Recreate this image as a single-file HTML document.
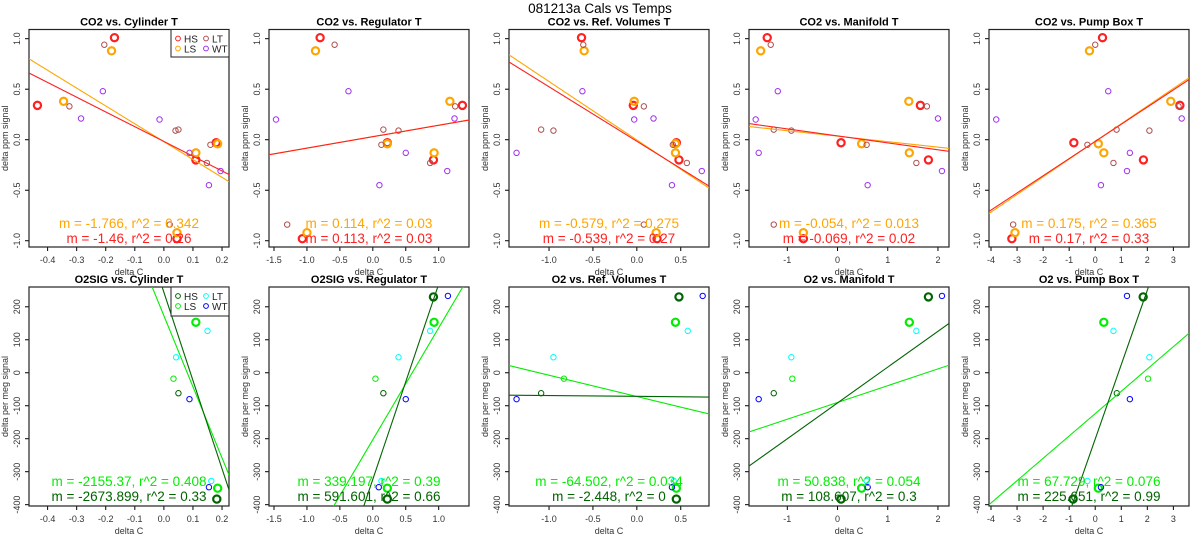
<!DOCTYPE html>
<html><head><meta charset="utf-8"><style>
html,body{margin:0;padding:0;background:#fff;width:1200px;height:550px;overflow:hidden;}
svg{display:block;font-family:"Liberation Sans",sans-serif;}
</style></head><body>
<svg id="c" width="1200" height="550" xmlns="http://www.w3.org/2000/svg">
<text x="600" y="13" text-anchor="middle" font-size="13.5">081213a   Cals vs Temps</text>
</svg>
<script>
// ---- top row (CO2) data: y values per group ----
const co2HS_y = [1.01, 0.34, -0.03, -0.20, -0.98];
const co2LS_y = [0.88, 0.38, -0.04, -0.13, -0.92];
const co2LT_y = [0.94, 0.33, 0.10, 0.09, -0.05, -0.23, -0.84];
const co2WT_y = [0.48, 0.20, 0.21, -0.13, -0.31, -0.45];
// x values per panel
const cylHS_x = [-0.17, -0.435, 0.18, 0.11, 0.045];
const cylLS_x = [-0.18, -0.345, 0.185, 0.11, 0.045];
const cylLT_x = [-0.205, -0.325, 0.05, 0.04, 0.16, 0.148, 0.02];
const cylWT_x = [-0.21, -0.015, -0.285, 0.088, 0.195, 0.155];
const regHS_x = [-0.8, 1.36, 0.22, 0.92, -1.07];
const regLS_x = [-0.87, 1.17, 0.22, 0.93, -1.0];
const regLT_x = [-0.58, 1.25, 0.16, 0.39, 0.13, 0.87, -1.3];
const regWT_x = [-0.37, -1.47, 1.24, 0.5, 1.13, 0.1];
const refHS_x = [-0.63, -0.04, 0.45, 0.48, 0.23];
const refLS_x = [-0.6, -0.03, 0.44, 0.44, 0.22];
const refLT_x = [-0.61, 0.08, -1.09, -0.95, 0.41, 0.57, 0.08];
const refWT_x = [-0.62, -0.03, 0.19, -1.37, 0.74, 0.4];
const manHS_x = [-1.4, 1.65, 0.07, 1.81, -0.68];
const manLS_x = [-1.53, 1.42, 0.48, 1.43, -0.68];
const manLT_x = [-1.33, 1.78, -1.27, -0.92, 0.58, 1.57, -1.27];
const manWT_x = [-1.19, -1.63, 2.0, -1.57, 2.08, 0.6];
const pumHS_x = [0.28, 3.25, -0.82, 1.85, -3.2];
const pumLS_x = [-0.22, 2.9, 0.12, 0.33, -3.08];
const pumLT_x = [0.0, 3.2, 0.82, 2.08, -0.3, 0.7, -3.15];
const pumWT_x = [0.5, -3.8, 3.32, 1.33, 1.22, 0.22];
// ---- bottom row (O2) data ----
const o2HS_y = [230, -383, -62];
const o2LS_y = [153, -350, -18];
const o2LT_y = [127, 47, -328];
const o2WT_y = [233, -80, -347];
const bcylHS_x = [null, 0.182, 0.05];
const bcylLS_x = [0.11, 0.185, 0.033];
const bcylLT_x = [0.15, 0.042, 0.163];
const bcylWT_x = [null, 0.088, 0.155];
const bregHS_x = [0.92, 0.22, 0.16];
const bregLS_x = [0.93, 0.22, 0.04];
const bregLT_x = [0.87, 0.39, 0.13];
const bregWT_x = [1.14, 0.5, 0.09];
const brefHS_x = [0.48, 0.45, -1.09];
const brefLS_x = [0.44, 0.45, -0.83];
const brefLT_x = [0.58, -0.95, 0.42];
const brefWT_x = [0.75, -1.37, 0.4];
const bmanHS_x = [1.81, 0.07, -1.27];
const bmanLS_x = [1.43, 0.48, -0.9];
const bmanLT_x = [1.57, -0.92, 0.58];
const bmanWT_x = [2.08, -1.57, 0.6];
const bpumHS_x = [1.84, -0.85, 0.83];
const bpumLS_x = [0.33, 0.12, 2.03];
const bpumLT_x = [0.7, 2.08, -0.3];
const bpumWT_x = [1.22, 1.33, 0.22];
// regression lines [slope, intercept]
const topSlopeLS = [-1.766, 0.114, -0.579, -0.054, 0.175];
const topIntLS = [-0.019, 0.03, -0.003, 0.035, -0.017];
const topSlopeHS = [-1.46, 0.113, -0.539, -0.069, 0.17];
const topIntHS = [-0.017, 0.03, -0.015, 0.038, -0.017];
const botSlopeLS = [-2155.37, 339.197, -64.502, 50.838, 67.729];
const botIntLS = [173, -203, -72, -90, -124];
const botSlopeHS = [-2673.899, 591.601, -2.448, 108.607, 225.651];
const botIntHS = [244, -323, -71.6, -91.5, -201];
const topLabLS = ["m = -1.766, r^2 = 0.342","m = 0.114, r^2 = 0.03","m = -0.579, r^2 = 0.275","m = -0.054, r^2 = 0.013","m = 0.175, r^2 = 0.365"];
const topLabHS = ["m = -1.46, r^2 = 0.26","m = 0.113, r^2 = 0.03","m = -0.539, r^2 = 0.27","m = -0.069, r^2 = 0.02","m = 0.17, r^2 = 0.33"];
const botLabLS = ["m = -2155.37, r^2 = 0.408","m = 339.197, r^2 = 0.39","m = -64.502, r^2 = 0.034","m = 50.838, r^2 = 0.054","m = 67.729, r^2 = 0.076"];
const botLabHS = ["m = -2673.899, r^2 = 0.33","m = 591.601, r^2 = 0.66","m = -2.448, r^2 = 0","m = 108.607, r^2 = 0.3","m = 225.651, r^2 = 0.99"];
const topTitles = ["CO2 vs. Cylinder T","CO2 vs. Regulator T","CO2 vs. Ref. Volumes T","CO2 vs. Manifold T","CO2 vs. Pump Box T"];
const botTitles = ["O2SIG vs. Cylinder T","O2SIG vs. Regulator T","O2 vs. Ref. Volumes T","O2 vs. Manifold T","O2 vs. Pump Box T"];
const xDomains = [[-0.464,0.224],[-1.576,1.46],[-1.456,0.822],[-1.763,2.22],[-4.077,3.6]];
const xTicks = [[-0.4,-0.3,-0.2,-0.1,0.0,0.1,0.2],[-1.5,-1.0,-0.5,0.0,0.5,1.0],[-1.0,-0.5,0.0,0.5],[-1,0,1,2],[-4,-3,-2,-1,0,1,2,3]];
const xTickLab = [["-0.4","-0.3","-0.2","-0.1","0.0","0.1","0.2"],["-1.5","-1.0","-0.5","0.0","0.5","1.0"],["-1.0","-0.5","0.0","0.5"],["-1","0","1","2"],["-4","-3","-2","-1","0","1","2","3"]];
const topYTicks = [1.0, 0.5, 0.0, -0.5, -1.0];
const topYLab = ["1.0","0.5","0.0","-0.5","-1.0"];
const botYTicks = [200, 100, 0, -100, -200, -300, -400];
const botYLab = ["200","100","0","-100","-200","-300","-400"];

const topX = [[cylHS_x,cylLS_x,cylLT_x,cylWT_x],[regHS_x,regLS_x,regLT_x,regWT_x],[refHS_x,refLS_x,refLT_x,refWT_x],[manHS_x,manLS_x,manLT_x,manWT_x],[pumHS_x,pumLS_x,pumLT_x,pumWT_x]];
const botX = [[bcylHS_x,bcylLS_x,bcylLT_x,bcylWT_x],[bregHS_x,bregLS_x,bregLT_x,bregWT_x],[brefHS_x,brefLS_x,brefLT_x,brefWT_x],[bmanHS_x,bmanLS_x,bmanLT_x,bmanWT_x],[bpumHS_x,bpumLS_x,bpumLT_x,bpumWT_x]];

const svg = document.getElementById('c');
const NS = 'http://www.w3.org/2000/svg';
function mk(tag, attrs, parent){const e=document.createElementNS(NS,tag);for(const k in attrs)e.setAttribute(k,attrs[k]);(parent||svg).appendChild(e);return e;}

function drawPanel(i, row){
  const L = 29 + 240*i, R = L + 200;
  const T = row===0 ? 29.5 : 287, B = row===0 ? 247 : 506;
  const yd = row===0 ? [-1.062, 1.091] : [-404, 260];
  const xd = xDomains[i];
  const sx = v => L + (v - xd[0])/(xd[1]-xd[0])*(R-L);
  const sy = v => B - (v - yd[0])/(yd[1]-yd[0])*(B-T);
  const g = mk('g', {});
  
  
  const cid = 'clip'+row+i;
  const cp = mk('clipPath',{id:cid},g); mk('rect',{x:L,y:T,width:R-L,height:B-T},cp);
  const t = mk('text',{x:(L+R)/2,y:T-4,'text-anchor':'middle','font-size':'11','font-weight':'bold'},g);
  t.textContent = row===0 ? topTitles[i] : botTitles[i];
  
  
  const xt = xTicks[i];
  mk('line',{x1:sx(xt[0]),x2:sx(xt[xt.length-1]),y1:B,y2:B,stroke:'#000','stroke-width':1},g);
  xt.forEach((v,k)=>{
    mk('line',{x1:sx(v),x2:sx(v),y1:B,y2:B+4,stroke:'#000'},g);
    const tl = mk('text',{x:sx(v),y:B+16,'text-anchor':'middle','font-size':'9',fill:'#333'},g);
    tl.textContent = xTickLab[i][k];
    
    
  });
  const xl = mk('text',{x:(L+R)/2,y:B+28,'text-anchor':'middle','font-size':'9',fill:'#333'},g);
  xl.textContent='delta C';
  
  
  const yt = row===0?topYTicks:botYTicks, ylb=row===0?topYLab:botYLab;
  mk('line',{x1:L,x2:L,y1:sy(yt[0]),y2:sy(yt[yt.length-1]),stroke:'#000'},g);
  yt.forEach((v,k)=>{
    mk('line',{x1:L-4,x2:L,y1:sy(v),y2:sy(v),stroke:'#000'},g);
    const tl = mk('text',{x:0,y:0,'text-anchor':'middle','font-size':'9',fill:'#333',transform:`translate(${L-9},${sy(v)}) rotate(-90)`},g);
    tl.textContent = ylb[k];
    
    
  });
  const yl = mk('text',{x:0,y:0,'text-anchor':'middle','font-size':'9',fill:'#333',transform:`translate(${L-21},${(T+B)/2}) rotate(-90)`},g);
  yl.textContent = row===0?'delta ppm signal':'delta per meg signal';
  
  
  mk('rect',{x:L,y:T,width:R-L,height:B-T,fill:'none',stroke:'#222','stroke-width':1.2},g);
  const pg = mk('g',{'clip-path':`url(#${cid})`},g);
  const cols = row===0?['#ff2020','#ffa500','#b05050','#a030f0']:['#006400','#00ee00','#00ffff','#0000ff'];
  const names = ['hs','ls','lt','wt'];
  const ys = row===0?[co2HS_y,co2LS_y,co2LT_y,co2WT_y]:[o2HS_y,o2LS_y,o2LT_y,o2WT_y];
  const xs = row===0?topX[i]:botX[i];
  for(let s=0;s<4;s++){
    xs[s].forEach((xv,k)=>{
      if(xv===null) return;
      const thick = (s<2) && !(row===1 && k===2);
      const c = mk('circle',{cx:sx(xv),cy:sy(ys[s][k]),r:thick?3.6:2.7,fill:'none',stroke:cols[s],'stroke-width':thick?2.2:1},pg);
      
      
    });
  }
  const sl = row===0?[topSlopeLS[i],topSlopeHS[i]]:[botSlopeLS[i],botSlopeHS[i]];
  const ic = row===0?[topIntLS[i],topIntHS[i]]:[botIntLS[i],botIntHS[i]];
  const lc = row===0?['#ffa500','#ff2020']:['#00ee00','#006400'];
  for(let s=0;s<2;s++){
    const ln = mk('line',{x1:sx(xd[0]),y1:sy(sl[s]*xd[0]+ic[s]),x2:sx(xd[1]),y2:sy(sl[s]*xd[1]+ic[s]),stroke:lc[s],'stroke-width':1.1},pg);
    
    
  }
  const a1y = row===0?228:486, a2y=row===0?243:501;
  const a1 = mk('text',{x:(L+R)/2,y:a1y,'text-anchor':'middle','font-size':'13.5',fill:lc[0]},g);
  a1.textContent = row===0?topLabLS[i]:botLabLS[i];
  
  
  const a2 = mk('text',{x:(L+R)/2,y:a2y,'text-anchor':'middle','font-size':'13.5',fill:lc[1]},g);
  a2.textContent = row===0?topLabHS[i]:botLabHS[i];
  
  
  if(i===0){
    const lg = mk('g',{},g);
    
    
    const lh = row===0?27.5:29;
    mk('rect',{x:171,y:T,width:58,height:lh,fill:'#fff',stroke:'#222','stroke-width':1},lg);
    const labs=['HS','LS','LT','WT'];
    const pos=[[178,T+9],[178,T+19],[206,T+9],[206,T+19]];
    for(let s=0;s<4;s++){
      mk('circle',{cx:pos[s][0],cy:pos[s][1],r:2.4,fill:'none',stroke:cols[s],'stroke-width':1},lg);
      const tx=mk('text',{x:pos[s][0]+6,y:pos[s][1]+4,'font-size':'10',fill:'#222'},lg);
      tx.textContent=labs[s];
      
      
    }
  }
}
for(let i=0;i<5;i++){drawPanel(i,0);drawPanel(i,1);}
</script>
</body></html>
